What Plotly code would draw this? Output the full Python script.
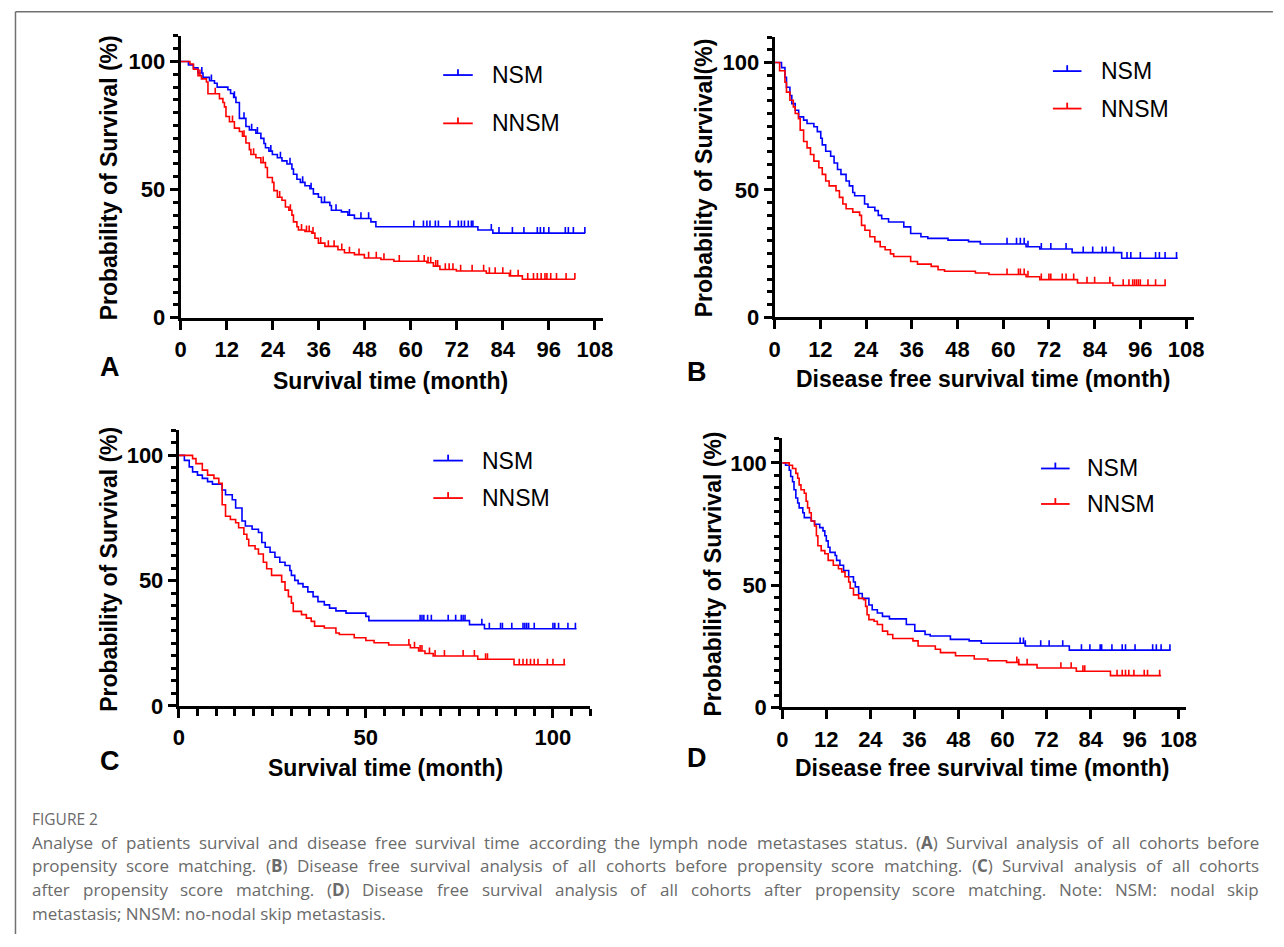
import bisect
import re
import plotly.graph_objects as go

# ------------------------------------------------------------------ data
# Panel A: overall survival, before PSM
A_NSM_T = [0, 2.0, 3.3, 4.5, 5.8, 7.5, 8.8, 9.5, 12.3, 13.0, 13.8, 14.4, 15.3, 17.0, 17.9, 19.6, 20.9,
           21.7, 22.1, 23.0, 23.9, 25.2, 26.4, 27.7, 29.0, 29.4, 30.3, 31.2, 32.4, 33.7, 34.6, 35.9,
           36.7, 38.9, 39.3, 41.9, 43.6, 45.3, 49.6, 50.9, 77.5, 81.4]
A_NSM_S = [100, 98.7, 97.5, 95.5, 93.8, 92.5, 91.5, 90.0, 89.0, 87.5, 86.0, 84.0, 77.8, 74.6, 73.3, 72.0,
           70.0, 68.0, 66.3, 65.0, 63.7, 62.4, 61.2, 60.0, 58.0, 56.0, 54.0, 52.8, 51.5, 50.3, 48.3, 47.0,
           45.0, 43.8, 41.9, 41.3, 40.0, 38.7, 37.4, 35.5, 34.2, 33.0]
A_NSM_END = 105.5
A_NSM_CENS = [5.5, 8, 14, 16.5, 18.5, 20, 23.5, 26, 28.5, 31.8, 34, 37.5, 40.5, 44, 47, 49, 60.8, 63.3,
              64.2, 65, 66.4, 67.2, 70.2, 72.4, 73.2, 74, 75, 75.8, 76.2, 81, 83, 86.5, 89.5, 93, 93.8,
              94.7, 96, 100.3, 101.1, 102.4, 105.4]

A_NNSM_T = [0, 2.4, 3.3, 4.5, 5.4, 6.7, 7.1, 10.1, 11.0, 11.4, 11.8, 12.7, 14.0, 15.3, 16.1, 17.0, 17.9,
            18.3, 19.6, 20.9, 22.1, 22.6, 23.9, 24.3, 25.2, 26.4, 27.3, 28.2, 29.0, 29.4, 30.3, 30.7,
            32.4, 34.2, 35.0, 35.9, 37.6, 41.0, 42.7, 45.3, 47.9, 52.2, 55.6, 64.2, 65.9, 67.6, 71.9,
            79.7, 85.7, 89.1]
A_NNSM_S = [100, 99.0, 97.0, 94.5, 93.2, 92.0, 87.4, 85.5, 84.0, 82.3, 78.5, 76.5, 74.0, 72.7, 70.8, 68.2,
            65.6, 63.7, 62.4, 60.5, 58.6, 54.7, 52.8, 49.6, 47.0, 45.8, 43.2, 41.9, 40.0, 37.4, 35.5,
            34.2, 33.6, 33.0, 31.0, 29.1, 27.8, 26.5, 25.3, 24.6, 23.3, 22.7, 22.0, 21.4, 20.1, 18.8,
            18.2, 17.3, 16.3, 15.0]
A_NNSM_END = 102.8
A_NNSM_CENS = [5, 9, 13.5, 16.5, 19, 21.5, 25.8, 28.6, 31.5, 32.8, 33.5, 34.5, 36.5, 38.5, 40, 42, 44,
               46.5, 49, 51, 53, 57, 62, 63.5, 64.5, 65.2, 66.5, 67, 69, 70, 71, 73, 76, 79, 80.5, 82,
               84, 86, 88, 90.5, 92, 93, 94, 95, 95.5, 96.5, 98, 100.5, 102.8]

# Panel B: disease free survival, before PSM
B_NSM_T = [0, 1.8, 2.7, 3.1, 4.0, 4.5, 5.4, 6.3, 7.6, 8.5, 10.3, 11.2, 12.1, 12.5, 13.4, 14.7, 15.6,
           16.5, 17.4, 18.75, 19.6, 20.5, 21.0, 23.6, 24.5, 26.3, 27.2, 28.1, 29.9, 33.9, 35.7, 38.4,
           40.2, 45.5, 50.9, 54.0, 66.0, 69.6, 78.1, 91.1]
B_NSM_S = [100, 98.0, 94.2, 90.3, 87.1, 83.9, 81.3, 78.7, 77.4, 76.1, 74.8, 72.9, 70.3, 67.7, 65.2, 63.2,
           60.6, 58.0, 56.1, 53.5, 51.6, 49.0, 47.7, 44.5, 43.2, 41.9, 40.0, 38.7, 37.4, 35.5, 32.9,
           31.6, 31.0, 30.3, 29.7, 28.8, 27.7, 26.8, 25.4, 23.2]
B_NSM_END = 105.8
B_NSM_CENS = [61, 63.5, 64.5, 65.5, 66.5, 70, 72.5, 76.5, 81, 83.5, 86, 87, 89, 92.5, 93.5, 96, 100,
              101, 102.5, 105.5]

B_NNSM_T = [0, 1.3, 2.7, 3.1, 4.0, 4.9, 5.4, 6.25, 6.7, 7.6, 8.5, 9.4, 10.3, 11.6, 12.5, 13.4, 14.3,
            16.1, 17.0, 17.9, 18.75, 20.5, 22.3, 22.8, 23.7, 25.0, 26.3, 27.7, 29.0, 30.4, 31.25, 35.7,
            37.5, 41.1, 42.9, 44.6, 52.7, 56.25, 66.0, 69.6, 79.5, 88.8]
B_NNSM_S = [100, 96.8, 92.3, 88.4, 85.2, 82.6, 80.0, 78.0, 73.5, 69.0, 66.5, 63.9, 61.3, 58.7, 56.1,
            53.5, 51.6, 49.7, 47.1, 44.5, 42.6, 41.3, 40.0, 36.1, 34.2, 31.6, 29.7, 27.7, 26.5, 24.9,
            23.9, 21.9, 20.9, 20.0, 18.7, 18.1, 17.4, 16.8, 15.9, 14.8, 13.5, 12.5]
B_NNSM_END = 102.7
B_NNSM_CENS = [61, 64, 64.5, 65.5, 66.5, 70, 72, 72.5, 75.5, 76.5, 78.5, 82, 84, 88, 91.5, 93, 94, 94.5,
               95, 95.5, 96, 98, 100, 102.5]

# Panel C: overall survival, after PSM
C_NSM_T = [0, 1.5, 2.8, 3.7, 5.0, 6.3, 7.7, 9.0, 11.6, 12.5, 14.3, 15.2, 16.9, 17.8, 19.6, 21.3, 22.2,
           23.1, 24.4, 25.7, 27.0, 28.4, 29.7, 30.1, 31.0, 31.9, 33.2, 34.5, 35.9, 37.2, 38.9, 40.3,
           42.0, 44.7, 50.0, 50.8, 77.7, 81.7]
C_NSM_S = [100, 98.0, 95.4, 93.4, 92.1, 90.8, 89.5, 88.5, 86.2, 84.3, 82.3, 79.0, 73.8, 71.8, 70.5, 69.2,
           65.2, 63.3, 61.3, 59.3, 57.3, 56.0, 54.0, 52.1, 50.1, 48.8, 47.5, 45.5, 43.6, 41.6, 40.3,
           39.0, 37.9, 37.0, 35.7, 34.0, 32.4, 30.8]
C_NSM_END = 106.3
C_NSM_CENS = [64.5, 65, 65.5, 66.5, 67.5, 72, 74, 75.5, 76, 76.5, 81, 83, 86, 86.5, 89, 92, 92.5, 93,
              93.5, 95, 100, 100.5, 101.5, 104, 106]

C_NNSM_T = [0, 3.7, 4.6, 6.3, 7.7, 9.4, 10.7, 11.6, 12.5, 13.8, 15.2, 16.0, 17.4, 18.2, 18.7, 20.4,
            21.3, 22.6, 23.5, 24.8, 27.5, 28.4, 29.3, 30.1, 30.6, 32.8, 34.1, 35.4, 36.3, 38.9, 42.0,
            42.9, 46.9, 50.0, 52.2, 56.1, 61.9, 64.1, 65.8, 68.0, 79.9, 89.6]
C_NNSM_S = [100, 98.7, 96.7, 94.1, 92.1, 90.8, 88.8, 80.3, 75.7, 74.4, 73.1, 71.1, 68.5, 66.5, 63.9,
            62.6, 60.6, 57.3, 54.7, 52.1, 49.5, 46.2, 43.6, 41.0, 37.7, 36.4, 35.0, 33.7, 31.8, 31.1,
            29.1, 28.5, 27.2, 26.1, 25.2, 24.3, 23.2, 21.9, 20.9, 19.9, 18.6, 16.4]
C_NNSM_END = 103.3
C_NNSM_CENS = [61.5, 63, 64.5, 65, 67, 68.5, 71, 76, 79, 82, 82.5, 91, 92, 93, 94, 95, 96, 98.5, 100,
               103]

# Panel D: disease free survival, after PSM
D_NSM_T = [0, 0.9, 1.9, 2.3, 2.8, 3.2, 3.7, 4.2, 4.6, 5.6, 6.0, 7.9, 8.8, 10.2, 11.1, 11.6, 12.0, 12.5,
           13.0, 14.4, 14.8, 15.7, 16.7, 18.1, 19.4, 19.9, 20.8, 21.8, 23.6, 24.5, 25.9, 27.3, 29.2,
           33.8, 36.1, 38.9, 40.3, 45.8, 50.9, 54.2, 66.2, 78.2]
D_NSM_S = [100, 99.0, 97.0, 94.4, 92.3, 89.0, 85.6, 83.6, 81.6, 79.6, 77.6, 76.2, 74.9, 73.5, 72.2,
           70.2, 68.1, 65.5, 63.4, 62.1, 60.1, 58.1, 56.0, 53.4, 51.3, 49.3, 46.6, 44.6, 41.9, 39.9,
           38.6, 37.2, 36.2, 33.9, 31.2, 29.8, 29.2, 27.8, 27.2, 26.2, 25.1, 23.4]
D_NSM_END = 105.8
D_NSM_CENS = [64.8, 65.7, 66.2, 70.4, 72.7, 76.4, 81.5, 83.8, 86.6, 87, 89.8, 92.6, 93.5, 96.1, 100.9,
              101.9, 103.2, 105.6]

D_NNSM_T = [0, 1.9, 2.8, 3.7, 4.2, 4.6, 5.1, 6.0, 6.5, 6.9, 7.4, 7.9, 8.8, 9.3, 9.7, 10.6, 11.6, 12.5,
            13.9, 15.3, 16.2, 17.1, 18.1, 18.5, 19.4, 20.8, 22.2, 22.7, 23.1, 23.6, 25.0, 25.9, 27.3,
            28.7, 30.1, 35.6, 37.0, 41.7, 43.1, 47.2, 52.3, 56.0, 61.1, 64.4, 69.4, 80.1, 89.4]
D_NNSM_S = [100, 99.0, 97.7, 95.7, 93.7, 91.0, 89.0, 87.6, 84.3, 81.6, 79.6, 76.2, 74.2, 70.2, 66.1,
            64.1, 62.8, 60.1, 58.1, 56.7, 55.4, 53.4, 51.3, 48.7, 46.0, 44.6, 44.0, 41.3, 37.9, 35.9,
            35.2, 33.9, 31.2, 29.8, 28.2, 27.2, 25.1, 23.8, 22.4, 21.1, 19.8, 19.1, 18.4, 17.5, 16.1,
            14.8, 13.0]
D_NNSM_END = 103.2
D_NNSM_CENS = [63.9, 64.4, 66.7, 75.9, 78.7, 81.9, 82.4, 91.2, 92.6, 93.5, 94.4, 95.8, 98.6, 99.5,
               102.8]

MONTH_TICKS = [0, 12, 24, 36, 48, 60, 72, 84, 96, 108]
C_X_TICKS = [0, 50, 100]
Y_TICKS = [0, 50, 100]
GROUPS = ["NSM", "NNSM"]
PANEL_LETTERS = ["A", "B", "C", "D"]
X_TITLES = ["Survival time (month)", "Disease free survival time (month)",
            "Survival time (month)", "Disease free survival time (month)"]
Y_TITLES = ["Probability of Survival (%)", "Probability of Survival(%)",
            "Probability of Survival (%)", "Probability of Survival (%)"]

CAPTION_HEAD = "FIGURE 2"
CAPTION_LINES = [
    "Analyse of patients survival and disease free survival time according the lymph node metastases status. (<b>A</b>) Survival analysis of all cohorts before",
    "propensity score matching. (<b>B</b>) Disease free survival analysis of all cohorts before propensity score matching. (<b>C</b>) Survival analysis of all cohorts",
    "after propensity score matching. (<b>D</b>) Disease free survival analysis of all cohorts after propensity score matching. Note: NSM: nodal skip",
    "metastasis; NNSM: no-nodal skip metastasis.",
]

# ------------------------------------------------------------------ layout helpers
# the page body keeps its default 8px margin, so the figure is 16px smaller than the window
PAGE_W, PAGE_H, OFF = 1284, 947, 8
W, H = PAGE_W - 2 * OFF, PAGE_H - 2 * OFF
BLUE, RED = "#0000FF", "#FF0000"
SANS = "Liberation Sans, Arial, sans-serif"


def px(x):
    return (x - OFF) / W


def py(y):
    return 1 - (y - OFF) / H


# pixel geometry (page coords) of each panel
PANELS = [
    dict(x0=177.0, x1=604.5, y0=322.0, y1=36.3, xt=MONTH_TICKS, minor_x=None,
         leg=(443, 473, 490, 76, 125), letter=(105, 372), xtitle=(390, 386), ytitle=(104, 180)),
    dict(x0=779.0, x1=1203.7, y0=321.7, y1=37.5, xt=MONTH_TICKS, minor_x=None,
         leg=(1061, 1090, 1108, 72, 110), letter=(700, 377), xtitle=(991, 384), ytitle=(707, 180)),
    dict(x0=175.0, x1=592.2, y0=715.7, y1=436.3, xt=C_X_TICKS, minor_x=5,
         leg=(433, 463, 480, 467, 505), letter=(105, 772), xtitle=(385, 779), ytitle=(104, 577)),
    dict(x0=786.7, x1=1196.0, y0=717.3, y1=444.5, xt=MONTH_TICKS, minor_x=None,
         leg=(1049, 1078, 1094, 475, 511), letter=(700, 769), xtitle=(990, 779), ytitle=(716, 582)),
]

DATA = [
    ((A_NSM_T, A_NSM_S, A_NSM_END, A_NSM_CENS), (A_NNSM_T, A_NNSM_S, A_NNSM_END, A_NNSM_CENS)),
    ((B_NSM_T, B_NSM_S, B_NSM_END, B_NSM_CENS), (B_NNSM_T, B_NNSM_S, B_NNSM_END, B_NNSM_CENS)),
    ((C_NSM_T, C_NSM_S, C_NSM_END, C_NSM_CENS), (C_NNSM_T, C_NNSM_S, C_NNSM_END, C_NNSM_CENS)),
    ((D_NSM_T, D_NSM_S, D_NSM_END, D_NSM_CENS), (D_NNSM_T, D_NNSM_S, D_NNSM_END, D_NNSM_CENS)),
]

CENSOR_LEN = 2.4  # tick height in % units

fig = go.Figure()
annotations = []
shapes = []

for i, (pan, groups) in enumerate(zip(PANELS, DATA)):
    n = "" if i == 0 else str(i + 1)
    xa, ya = "x" + n, "y" + n
    for (t, s, end, cens), color, name in zip(groups, (BLUE, RED), GROUPS):
        fig.add_trace(go.Scatter(
            x=list(t) + [end], y=list(s) + [s[-1]], mode="lines", line=dict(color=color, width=1.6, shape="hv"),
            xaxis=xa, yaxis=ya, showlegend=False, name=name, hoverinfo="skip"))
        cx, cy = [], []
        for c in cens:
            k = bisect.bisect_right(t, c) - 1
            sv = s[max(k, 0)]
            cx += [c, c, None]
            cy += [sv, sv + CENSOR_LEN, None]
        fig.add_trace(go.Scatter(
            x=cx, y=cy, mode="lines", line=dict(color=color, width=1.6),
            xaxis=xa, yaxis=ya, showlegend=False, hoverinfo="skip"))

    xaxis = dict(
        domain=[px(pan["x0"]), px(pan["x1"])], range=[0, 110], anchor=ya,
        showline=True, linecolor="black", linewidth=3, showgrid=False, zeroline=False,
        ticks="outside", ticklen=9, tickwidth=3, tickcolor="black",
        tickvals=pan["xt"], ticktext=[str(v) for v in pan["xt"]],
        tickfont=dict(family=SANS, size=22, color="black", weight="bold"),
        ticklabelstandoff=1,
    )
    if pan["minor_x"]:
        xaxis["minor"] = dict(ticks="outside", dtick=pan["minor_x"], tick0=0, ticklen=7,
                              tickwidth=2.5, tickcolor="black", showgrid=False)
    yaxis = dict(
        domain=[py(pan["y0"]), py(pan["y1"])], range=[0, 110], anchor=xa,
        showline=True, linecolor="black", linewidth=3, showgrid=False, zeroline=False,
        ticks="outside", ticklen=8, tickwidth=3, tickcolor="black",
        tickvals=Y_TICKS, ticktext=[str(v) for v in Y_TICKS],
        tickfont=dict(family=SANS, size=22, color="black", weight="bold"),
        minor=dict(ticks="outside", dtick=5, tick0=0, ticklen=5, tickwidth=2.5,
                   tickcolor="black", showgrid=False),
    )
    fig.update_layout(**{"xaxis" + n: xaxis, "yaxis" + n: yaxis})

    # legend (line sample with censor tick + label)
    lx0, lx1, ltx, ly1, ly2 = pan["leg"]
    for ly, color, name in ((ly1, BLUE, GROUPS[0]), (ly2, RED, GROUPS[1])):
        shapes.append(dict(type="line", xref="paper", yref="paper", x0=px(lx0), x1=px(lx1),
                           y0=py(ly), y1=py(ly), line=dict(color=color, width=1.8)))
        xm = (lx0 + lx1) / 2
        shapes.append(dict(type="line", xref="paper", yref="paper", x0=px(xm), x1=px(xm),
                           y0=py(ly), y1=py(ly - 6), line=dict(color=color, width=1.8)))
        annotations.append(dict(text=name, x=px(ltx), y=py(ly), xref="paper", yref="paper",
                                xanchor="left", yanchor="middle", showarrow=False,
                                font=dict(family=SANS, size=23, color="black")))

    # panel letter, axis titles
    lx, lyy = pan["letter"]
    annotations.append(dict(text="<b>%s</b>" % PANEL_LETTERS[i], x=px(lx), y=py(lyy), xref="paper",
                            yref="paper", xanchor="center", yanchor="middle", showarrow=False,
                            font=dict(family=SANS, size=27, color="black")))
    tx, ty = pan["xtitle"]
    annotations.append(dict(text="<b>%s</b>" % X_TITLES[i], x=px(tx), y=py(ty), xref="paper",
                            yref="paper", xanchor="center", yanchor="middle", showarrow=False,
                            font=dict(family=SANS, size=23, color="black")))
    vx, vy = pan["ytitle"]
    annotations.append(dict(text="<b>%s</b>" % Y_TITLES[i], x=px(vx), y=py(vy), xref="paper",
                            yref="paper", xanchor="center", yanchor="middle", showarrow=False,
                            textangle=-90, font=dict(family=SANS, size=23, color="black")))

# ------------------------------------------------------------------ frame
shapes.append(dict(type="line", xref="paper", yref="paper", x0=px(9.5), x1=px(PAGE_W), y0=py(11.7),
                   y1=py(11.7), line=dict(color="#707070", width=1.5)))
shapes.append(dict(type="line", xref="paper", yref="paper", x0=px(9.5), x1=px(9.5), y0=py(11.7),
                   y1=py(PAGE_H), line=dict(color="#707070", width=1.5)))

# ------------------------------------------------------------------ caption (justified)
CAP_FONT = "Open Sans, sans-serif"
CAP_SIZE = 17
CAP_COLOR = "#6a6a6a"
OS_W = {' ': .26, 'a': .556, 'b': .613, 'c': .476, 'd': .613, 'e': .561, 'f': .339, 'g': .548, 'h': .614,
        'i': .253, 'j': .253, 'k': .525, 'l': .253, 'm': .930, 'n': .614, 'o': .604, 'p': .613, 'q': .613,
        'r': .408, 's': .477, 't': .353, 'u': .614, 'v': .501, 'w': .778, 'x': .524, 'y': .502, 'z': .477,
        'A': .633, 'B': .648, 'C': .631, 'D': .729, 'E': .556, 'F': .516, 'G': .728, 'H': .738, 'I': .279,
        'M': .903, 'N': .756, 'O': .779, 'P': .602, 'R': .618, 'S': .549, 'T': .553, '.': .266, ',': .244,
        ':': .266, ';': .266, '(': .297, ')': .297, '-': .322}


def tw(s):
    s = re.sub(r"<[^>]+>", "", s)
    return sum(OS_W.get(c, .56) for c in s) * CAP_SIZE


annotations.append(dict(text=CAPTION_HEAD, x=px(24), y=py(830), xref="paper", yref="paper",
                        xanchor="left", yanchor="middle", showarrow=False,
                        font=dict(family=CAP_FONT, size=15.5, color=CAP_COLOR)))
CAP_LEFT, CAP_RIGHT = 24, 1272
CAP_Y = [854, 878, 902, 926]
for li, (line, ly) in enumerate(zip(CAPTION_LINES, CAP_Y)):
    if li == len(CAPTION_LINES) - 1:
        annotations.append(dict(text=line, x=px(CAP_LEFT), y=py(ly), xref="paper", yref="paper",
                                xanchor="left", yanchor="middle", showarrow=False,
                                font=dict(family=CAP_FONT, size=CAP_SIZE, color=CAP_COLOR)))
        continue
    words = line.split(" ")
    widths = [tw(w) for w in words]
    gap = max((CAP_RIGHT - CAP_LEFT - 4 - sum(widths)) / (len(words) - 1), 3)
    xcur = CAP_LEFT
    for k, (w, wd) in enumerate(zip(words, widths)):
        if k == len(words) - 1:
            annotations.append(dict(text=w, x=px(CAP_RIGHT), y=py(ly), xref="paper", yref="paper",
                                    xanchor="right", yanchor="middle", showarrow=False,
                                    font=dict(family=CAP_FONT, size=CAP_SIZE, color=CAP_COLOR)))
        else:
            annotations.append(dict(text=w, x=px(xcur), y=py(ly), xref="paper", yref="paper",
                                    xanchor="left", yanchor="middle", showarrow=False,
                                    font=dict(family=CAP_FONT, size=CAP_SIZE, color=CAP_COLOR)))
        xcur += wd + gap

fig.update_layout(
    width=W, height=H, margin=dict(l=0, r=0, t=0, b=0),
    paper_bgcolor="white", plot_bgcolor="white", showlegend=False,
    annotations=annotations, shapes=shapes,
)

fig.write_html("out.html", config={"displayModeBar": False})
